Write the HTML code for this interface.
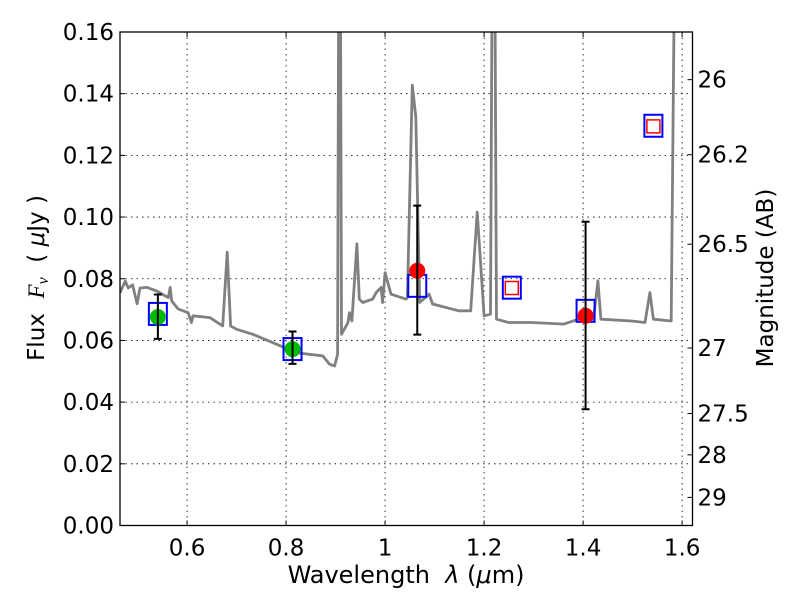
<!DOCTYPE html>
<html><head><meta charset="utf-8"><style>
html,body{margin:0;padding:0;background:#fff;}
svg text{font-family:"DejaVu Sans","Liberation Sans",sans-serif;fill:#000;white-space:pre;}
</style></head><body>
<svg id="chart" width="800" height="600" xmlns="http://www.w3.org/2000/svg" xml:space="preserve">
<defs><clipPath id="clip"><rect x="120" y="32" width="572.5" height="493.5"/></clipPath></defs>
<rect x="0" y="0" width="800" height="600" fill="#fff"/>
<g id="grid"></g>
<g id="spec" clip-path="url(#clip)"></g>
<g id="pts"></g>
<g id="axes"></g>
<text x="406" y="583" font-size="24" text-anchor="middle">Wavelength  <tspan font-style="italic">λ</tspan> (<tspan font-style="italic">μ</tspan>m)</text>
<text transform="translate(44,278) rotate(-90)" font-size="23" text-anchor="middle">Flux  <tspan font-family="Liberation Serif" font-style="italic">F<tspan font-size="16" dy="4">ν</tspan></tspan><tspan dy="-4">  ( </tspan><tspan font-style="italic">μ</tspan>Jy )</text>
<text transform="translate(773,278) rotate(-90)" font-size="23" text-anchor="middle">Magnitude (AB)</text>
</svg>
<script>
const xTicks=[0.6,0.8,1.0,1.2,1.4,1.6];
const xTickLabels=["0.6","0.8","1","1.2","1.4","1.6"];
const yTicks=[0,0.02,0.04,0.06,0.08,0.10,0.12,0.14,0.16];
const yTickLabels=["0.00","0.02","0.04","0.06","0.08","0.10","0.12","0.14","0.16"];
const magTicks=[26,26.2,26.5,27,27.5,28,29];
const magTickLabels=["26","26.2","26.5","27","27.5","28","29"];
const specWave=[0.465,0.475,0.481,0.49,0.499,0.505,0.519,0.539,0.562,0.566,0.569,0.582,0.602,0.609,0.612,0.646,0.672,0.681,0.688,0.7,0.733,0.78,0.821,0.874,0.888,0.898,0.904,0.906,0.91,0.912,0.925,0.928,0.933,0.943,0.948,0.955,0.975,0.982,0.992,0.995,1.0,1.012,1.042,1.045,1.055,1.062,1.07,1.089,1.096,1.149,1.173,1.186,1.2,1.213,1.216,1.222,1.225,1.25,1.297,1.361,1.391,1.421,1.43,1.436,1.498,1.525,1.535,1.542,1.578,1.584,1.62];
const specFlux=[0.0755,0.0793,0.077,0.078,0.0719,0.077,0.0772,0.076,0.0739,0.0772,0.0728,0.0702,0.069,0.0658,0.068,0.0674,0.0647,0.0886,0.0647,0.0636,0.062,0.0588,0.056,0.055,0.0523,0.0517,0.0555,0.17,0.17,0.062,0.0658,0.069,0.0663,0.0913,0.0734,0.0723,0.0734,0.0755,0.0772,0.0723,0.082,0.075,0.0734,0.0739,0.1428,0.1325,0.0723,0.075,0.0718,0.0696,0.0696,0.1016,0.068,0.0685,0.17,0.17,0.0669,0.0658,0.0658,0.0653,0.0669,0.0669,0.0793,0.0669,0.0663,0.0658,0.0755,0.0669,0.0663,0.17,0.17];
const detWave=[0.541,0.813,1.065,1.405];
const detFlux=[0.0676,0.0572,0.0826,0.068];
const detErrHi=[0.0749,0.0629,0.1037,0.0985];
const detErrLo=[0.0605,0.0524,0.0619,0.0377];
const detColor=["#00bb00","#00bb00","#ff0000","#ff0000"];
const modelWave=[0.541,0.813,1.065,1.405,1.256,1.542];
const modelFlux=[0.0686,0.0572,0.0777,0.0696,0.0771,0.1296];
const limWave=[1.256,1.542];
const limFlux=[0.077,0.1294];
const X0=120,X1=692.5,Y0=525.5,Y1=32,XMIN=0.4645,XMAX=1.621,YMAX=0.16;
const sx=v=>X0+(v-XMIN)/(XMAX-XMIN)*(X1-X0);
const sy=v=>Y0-v/YMAX*(Y0-Y1);
const magToFlux=m=>Math.pow(10,(23.9-m)/2.5);
const NS="http://www.w3.org/2000/svg";
function mk(tag,attrs,parent){const e=document.createElementNS(NS,tag);for(const k in attrs)e.setAttribute(k,attrs[k]);parent.appendChild(e);return e;}
const grid=document.getElementById('grid'),axes=document.getElementById('axes'),spec=document.getElementById('spec'),pts=document.getElementById('pts');
xTicks.forEach((t,i)=>{
 const g=mk('line',{x1:sx(t),x2:sx(t),y1:Y1,y2:Y0,stroke:'#000','stroke-width':0.8,'stroke-dasharray':'1.5,4'},grid);
 
 const a=mk('line',{x1:sx(t),x2:sx(t),y1:Y0,y2:Y0-5,stroke:'#000','stroke-width':1},axes);
 
 const b=mk('line',{x1:sx(t),x2:sx(t),y1:Y1,y2:Y1+5,stroke:'#000','stroke-width':1},axes);
 
 const tx=mk('text',{x:sx(t),y:Y0+30,'font-size':23,'text-anchor':'middle'},axes);tx.textContent=xTickLabels[i];
 
});
yTicks.forEach((t,i)=>{
 const g=mk('line',{x1:X0,x2:X1,y1:sy(t),y2:sy(t),stroke:'#000','stroke-width':0.8,'stroke-dasharray':'1.5,4'},grid);
 
 const a=mk('line',{x1:X0,x2:X0+5,y1:sy(t),y2:sy(t),stroke:'#000','stroke-width':1},axes);
 
 const tx=mk('text',{x:X0-6,y:sy(t)+8,'font-size':23,'text-anchor':'end'},axes);tx.textContent=yTickLabels[i];
 
});
magTicks.forEach((m,i)=>{
 const y=sy(magToFlux(m));
 const a=mk('line',{x1:X1,x2:X1-5,y1:y,y2:y,stroke:'#000','stroke-width':1},axes);
 
 const tx=mk('text',{x:X1+5,y:y+8,'font-size':23},axes);tx.textContent=magTickLabels[i];
 
});
const fr=mk('rect',{x:X0,y:Y1,width:X1-X0,height:Y0-Y1,fill:'none',stroke:'#000','stroke-width':1.3},axes);

const d=specWave.map((w,i)=>(i?'L':'M')+sx(w).toFixed(1)+','+sy(specFlux[i]).toFixed(1)).join(' ');
const sp=mk('path',{d:d,fill:'none',stroke:'#808080','stroke-width':2.8,'stroke-linejoin':'round'},spec);

modelWave.forEach((w,i)=>{
 const s=mk('rect',{x:sx(w)-9,y:sy(modelFlux[i])-11,width:18,height:22,fill:'none',stroke:'#0000ff','stroke-width':2},pts);
 
});
limWave.forEach((w,i)=>{
 const s=mk('rect',{x:sx(w)-6.5,y:sy(limFlux[i])-6.5,width:13,height:13,fill:'none',stroke:'#ff0000','stroke-width':1.5},pts);
 
});
detWave.forEach((w,i)=>{
 const x=sx(w);
 const c=mk('circle',{cx:x,cy:sy(detFlux[i]),r:8,fill:detColor[i]},pts);
 
 const e=mk('path',{d:`M${x},${sy(detErrHi[i])}V${sy(detErrLo[i])}M${x-4},${sy(detErrHi[i])}h8M${x-4},${sy(detErrLo[i])}h8`,stroke:'#000','stroke-width':2,fill:'none'},pts);
 
});
</script>
</body></html>
